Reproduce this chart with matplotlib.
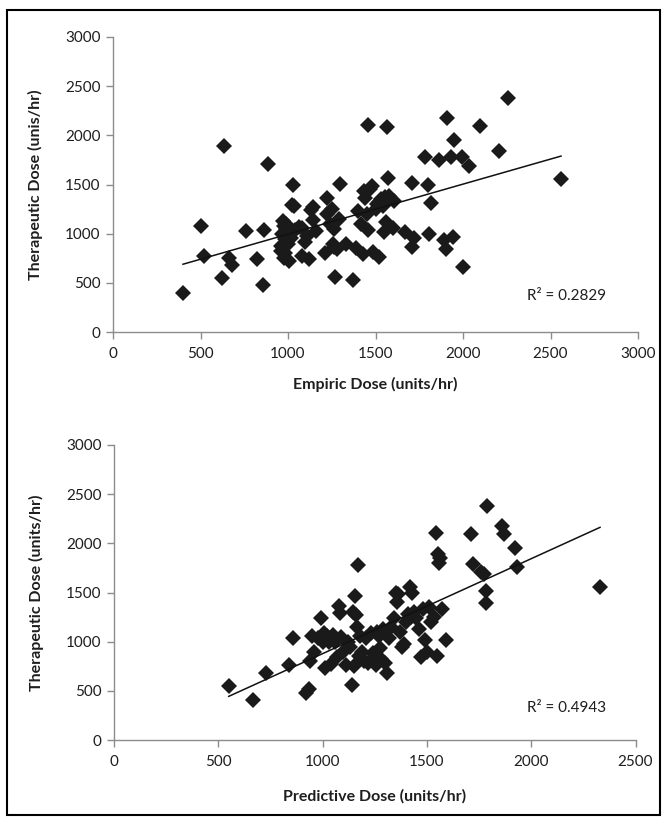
import matplotlib
matplotlib.use("Agg")
import matplotlib.pyplot as plt
import numpy as np
from matplotlib.patches import Rectangle

# ---- Top panel: Empiric vs Therapeutic ----
empiric_x = [400, 500, 520, 620, 635, 665, 680, 760, 820, 855, 860, 885,
             960, 965, 970, 975, 975, 980, 985, 990, 1000, 1005, 1010, 1020,
             1030, 1035, 1040, 1060, 1080, 1080, 1095, 1110, 1120, 1130, 1140,
             1145, 1160, 1210, 1220, 1225, 1240, 1250, 1255, 1260, 1265, 1270,
             1280, 1290, 1300, 1330, 1370, 1390, 1400, 1420, 1430, 1435, 1440,
             1450, 1455, 1460, 1470, 1480, 1485, 1500, 1510, 1520, 1530, 1540,
             1550, 1555, 1560, 1565, 1570, 1575, 1600, 1605, 1670, 1710, 1710,
             1720, 1785, 1800, 1805, 1815, 1860, 1890, 1900, 1910, 1930, 1945,
             1950, 1995, 2000, 2035, 2095, 2205, 2255, 2560,
             960, 990, 1000, 1015, 1520, 1545]
empiric_y = [400, 1075, 770, 545, 1895, 750, 680, 1030, 745, 475, 1040, 1705,
             870, 1000, 1130, 1080, 750, 800, 950, 1050, 900, 720, 1000, 1290,
             1500, 1280, 1040, 1070, 1060, 770, 920, 980, 740, 1240, 1270,
             1140, 1030, 800, 1200, 1360, 1100, 1250, 900, 860, 1050, 560,
             840, 1150, 1510, 890, 530, 850, 1230, 1100, 790, 1430, 1360,
             1200, 1040, 2110, 1450, 1480, 810, 1250, 1300, 760, 1350, 1290,
             1020, 1370, 1120, 2080, 1570, 1380, 1060, 1330, 1020, 1520, 860,
             960, 1780, 1500, 1000, 1310, 1750, 940, 840, 2180, 1780, 970,
             1950, 1780, 660, 1690, 2090, 1840, 2380, 1560,
             820, 1100, 1050, 960, 1320, 1280]

# ---- Bottom panel: Predictive vs Therapeutic ----
pred_x = [550, 665, 730, 840, 860, 920, 935, 940, 950, 960, 980, 990, 1000,
          1005, 1010, 1020, 1030, 1040, 1050, 1060, 1070, 1080, 1085, 1090,
          1100, 1110, 1120, 1130, 1140, 1145, 1150, 1155, 1160, 1165, 1170,
          1175, 1180, 1190, 1200, 1210, 1220, 1230, 1240, 1250, 1255, 1260,
          1270, 1275, 1280, 1290, 1300, 1310, 1320, 1330, 1340, 1350, 1355,
          1360, 1370, 1380, 1390, 1400, 1410, 1420, 1425, 1430, 1440, 1450,
          1460, 1470, 1480, 1490, 1500, 1510, 1520, 1535, 1545, 1550, 1555,
          1560, 1565, 1570, 1590, 1710, 1720, 1760, 1775, 1785, 1785, 1790,
          1860, 1870, 1920, 1930, 2330]
pred_y = [545, 405, 680, 760, 1040, 480, 520, 800, 1060, 900, 1040, 1240, 1000,
          1090, 730, 1060, 1000, 770, 1070, 1000, 840, 1360, 1290, 1050,
          900, 760, 1000, 950, 560, 1300, 750, 1460, 1270, 1150, 1780,
          850, 1060, 900, 800, 1040, 780, 1090, 880, 850, 760, 1100,
          1060, 940, 820, 1130, 780, 680, 1040, 1150, 1240, 1500, 1400,
          1480, 1100, 950, 980, 1200, 1280, 1560, 1250, 1500, 1300, 1240,
          1130, 840, 1330, 1020, 900, 1350, 1200, 1250, 2110, 850, 1890,
          1800, 1850, 1330, 1020, 2090, 1790, 1710, 1690, 1520, 1390, 2380,
          2180, 2090, 1950, 1760, 1560]

r2_top = "R\u00b2 = 0.2829"
r2_bot = "R\u00b2 = 0.4943"

plt.rcParams['font.family'] = ['Lato', 'DejaVu Sans']

fig = plt.figure(figsize=(6.67, 8.23), dpi=100)
fig.patches.append(Rectangle((7/667, 1-815/823), 653/667, 805/823,
                             transform=fig.transFigure, fill=False,
                             edgecolor='black', linewidth=1.5))

ax1 = fig.add_axes([113/667, 1-332/823, 525/667, 295/823])
ax2 = fig.add_axes([114/667, 1-740/823, 521.5/667, 295/823])

grey = '#8c8c8c'
txt = '#1e1e1e'
mk = dict(marker='D', ls='none', color='#1a1a1a', markersize=8, markeredgewidth=0)

def style(ax, xmax, xticks):
    for s in ['top', 'right']:
        ax.spines[s].set_visible(False)
    for s in ['left', 'bottom']:
        ax.spines[s].set_color(grey)
        ax.spines[s].set_linewidth(1)
    ax.set_xlim(0, xmax)
    ax.set_ylim(0, 3000)
    ax.set_xticks(xticks)
    ax.set_yticks(range(0, 3001, 500))
    ax.tick_params(axis='both', color=grey, length=5, width=1,
                   labelsize=11, labelcolor=txt, pad=4)
    ax.tick_params(axis='x', pad=6)

def trend(ax, x, y):
    x = np.asarray(x, float); y = np.asarray(y, float)
    b, a = np.polyfit(x, y, 1)
    xs = np.array([x.min(), x.max()])
    ax.plot(xs, a + b * xs, color='#111111', lw=1.1)

lab = dict(fontsize=11.5, fontweight='bold', color=txt)

ax1.plot(empiric_x, empiric_y, **mk)
trend(ax1, empiric_x, empiric_y)
style(ax1, 3000, range(0, 3001, 500))
ax1.set_xlabel('Empiric Dose (units/hr)', labelpad=11, **lab)
ax1.set_ylabel('Therapeutic Dose (unis/hr)', labelpad=16, **lab)
ax1.text(2590, 370, r2_top, fontsize=11, ha='center', va='center', color=txt)

ax2.plot(pred_x, pred_y, **mk)
trend(ax2, pred_x, pred_y)
style(ax2, 2500, range(0, 2501, 500))
ax2.set_xlabel('Predictive Dose (units/hr)', labelpad=14, **lab)
ax2.set_ylabel('Therapeutic Dose (units/hr)', labelpad=16, **lab)
ax2.text(2170, 325, r2_bot, fontsize=11, ha='center', va='center', color=txt)

fig.savefig('out.png', dpi=100)
